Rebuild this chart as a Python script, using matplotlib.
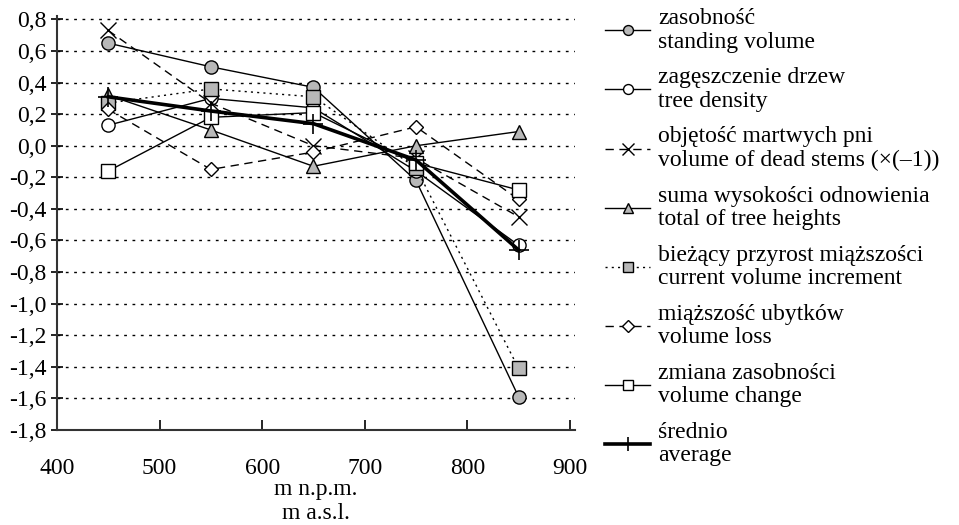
import matplotlib
matplotlib.use('Agg')
import matplotlib.pyplot as plt
from matplotlib.ticker import FuncFormatter, MultipleLocator

plt.rcParams['font.family'] = ['Liberation Serif', 'DejaVu Serif']

# altitude (m a.s.l.)
altitude = [450, 550, 650, 750, 850]

# standardised values
zasobnosc = [0.65, 0.50, 0.37, -0.22, -1.59]
zageszczenie = [0.13, 0.30, 0.24, -0.16, -0.63]
martwe_pnie = [0.73, 0.27, 0.00, -0.08, -0.45]
wysokosci = [0.32, 0.10, -0.13, 0.00, 0.09]
przyrost = [0.27, 0.36, 0.31, -0.14, -1.41]
ubytki = [0.23, -0.15, -0.04, 0.12, -0.34]
zmiana = [-0.16, 0.18, 0.21, -0.11, -0.28]
srednio = [0.31, 0.22, 0.14, -0.09, -0.66]

labels = [
    'zasobność\nstanding volume',
    'zagęszczenie drzew\ntree density',
    'objętość martwych pni\nvolume of dead stems (×(–1))',
    'suma wysokości odnowienia\ntotal of tree heights',
    'bieżący przyrost miąższości\ncurrent volume increment',
    'miąższość ubytków\nvolume loss',
    'zmiana zasobności\nvolume change',
    'średnio\naverage',
]

gray = '#b8b8b8'
dash = (0, (6, 4))
fs = 17

fig = plt.figure(figsize=(9.59, 5.25), dpi=100)
ax = fig.add_axes([0.0594, 0.181, 0.5402, 0.788])

# dotted horizontal grid
for v in [x / 10 for x in range(-16, 9, 2)]:
    ax.axhline(v, color='black', lw=1.0, ls=(0, (2, 4)), zorder=0)

common = dict(color='black', lw=1.0, markeredgecolor='black', markeredgewidth=1.0)
ax.plot(altitude, zasobnosc, ls='-', marker='o', ms=9.5, mfc=gray, label=labels[0], **common)
ax.plot(altitude, zageszczenie, ls='-', marker='o', ms=9.5, mfc='white', label=labels[1], **common)
ax.plot(altitude, martwe_pnie, ls=dash, marker='x', ms=11, mfc='none', label=labels[2], **common)
ax.plot(altitude, wysokosci, ls='-', marker='^', ms=10, mfc=gray, label=labels[3], **common)
ax.plot(altitude, przyrost, ls=(0, (1.5, 3)), marker='s', ms=9.5, mfc=gray, label=labels[4], **common)
ax.plot(altitude, ubytki, ls=dash, marker='D', ms=7.5, mfc='white', label=labels[5], **common)
ax.plot(altitude, zmiana, ls='-', marker='s', ms=9.5, mfc='white', label=labels[6], **common)
ax.plot(altitude, srednio, color='black', lw=2.6, marker='+', ms=14, mew=1.2, label=labels[7])

ax.set_xlim(400, 905)
ax.set_ylim(-1.8, 0.82)
ax.xaxis.set_major_locator(MultipleLocator(100))
ax.yaxis.set_major_locator(MultipleLocator(0.2))
ax.yaxis.set_major_formatter(FuncFormatter(lambda v, p: f'{v:.1f}'.replace('.', ',')))

for s in ['top', 'right']:
    ax.spines[s].set_visible(False)
for s in ['left', 'bottom']:
    ax.spines[s].set_color('#333333')
    ax.spines[s].set_linewidth(1.5)
ax.tick_params(axis='y', direction='inout', length=9, width=1.2, labelsize=fs, pad=3)
ax.tick_params(axis='x', direction='in', length=7, width=1.2, labelsize=fs, pad=20)
ax.set_xlabel('m n.p.m.\nm a.s.l.', fontsize=fs, labelpad=0, linespacing=1.2)

leg = fig.legend(loc='upper left', bbox_to_anchor=(0.631, 0.984), frameon=False,
                 fontsize=fs, handlelength=1.9, handletextpad=0.35, labelspacing=0.62,
                 borderpad=0, borderaxespad=0, markerscale=0.75)
for t in leg.get_texts():
    t.set_linespacing(1.15)

fig.savefig('out.png', dpi=100)
